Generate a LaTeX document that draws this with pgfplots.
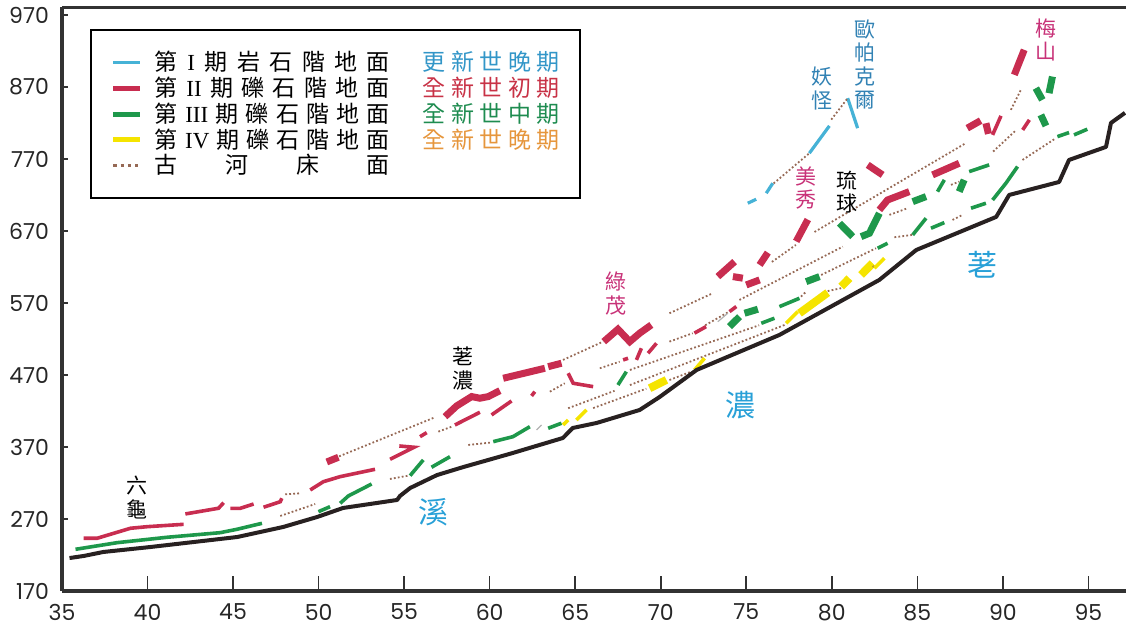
\documentclass[border=0pt]{standalone}
\usepackage{fontspec}
\setmainfont{Noto Sans CJK TC}
\newfontfamily\romfont{Liberation Serif}
\newfontfamily\tickfont{Poppins}
\usepackage{pgfplots}
\pgfplotsset{compat=1.18}

\definecolor{cyanI}{RGB}{70,178,214}
\definecolor{redII}{RGB}{200,45,80}
\definecolor{greenIII}{RGB}{30,152,75}
\definecolor{yellowIV}{RGB}{245,228,0}
\definecolor{dotc}{RGB}{150,105,85}
\definecolor{riverc}{RGB}{40,33,33}
\definecolor{axisc}{RGB}{50,50,50}
\definecolor{eraI}{RGB}{50,150,200}
\definecolor{eraII}{RGB}{200,50,70}
\definecolor{eraIII}{RGB}{30,140,80}
\definecolor{eraIV}{RGB}{230,150,60}
\definecolor{magl}{RGB}{200,50,120}
\definecolor{bluel}{RGB}{50,130,180}
\definecolor{bigblue}{RGB}{40,160,215}

% one legend row: terrace name, epoch colour, epoch name
\newcommand{\lrow}[3]{\makebox[117.5pt][s]{#1}\hspace{16.5pt}\textcolor{#2}{\makebox[68.5pt][s]{#3}}}
\newcommand{\labfont}{\fontsize{10.5}{11.7}\selectfont}
\newcommand{\bigfont}{\fontsize{15}{16}\selectfont}

\pgfplotsset{frame/.style={scale only axis, width=532pt, height=292pt,
  xmin=35, xmax=97.2, ymin=170, ymax=981}}

\begin{document}
\begin{tikzpicture}
\begin{axis}[
  frame,
  axis x line*=bottom, axis y line*=left,
  axis line style={line width=2pt, draw=axisc},
  xtick={35,40,...,95}, ytick={170,270,...,970},
  tick align=inside, major tick length=7.5pt,
  xtick style={line width=0.8pt, draw=axisc},
  ytick style={draw=none},
  /pgf/number format/assume math mode=true,
  tick label style={font=\tickfont\fontsize{11}{13}\selectfont, text=black!85},
  xticklabel style={yshift=-3pt},
  yticklabel style={xshift=-3pt},
  unbounded coords=jump,
  legend style={at={(rel axis cs:0.0263,0.962)}, anchor=north west,
    draw=black, line width=1pt, fill=white,
    inner xsep=10pt, inner ysep=10.5pt, row sep=1.65pt,
    nodes={inner sep=0pt},
    font=\fontsize{11.5}{13}\selectfont,
    /tikz/every odd column/.append style={column sep=6pt}},
  legend cell align=left,
  legend image code/.code={\draw[#1] (0pt,0pt) -- (13.5pt,0pt);},
]
\coordinate (SW) at (rel axis cs:0,0);
\coordinate (NE) at (rel axis cs:1,1);
\draw[line width=2pt, axisc] (rel axis cs:0,1) -- (rel axis cs:1,1);

% Stage I: bedrock terraces
\addplot[cyanI, line width=1.6pt, legend image post style={line width=1.5pt}] coordinates {
 (75.09,708.5) (75.58,714) (nan,nan) (76.17,722.4) (76.55,736.3) (nan,nan)
 (78.69,778) (79.86,815.9) (nan,nan) (80.93,854.4) (81.51,812.7)};
\addlegendentry{\lrow{第\hfil{\romfont I}\hfil 期\hfil 岩\hfil 石\hfil 階\hfil 地\hfil 面}{eraI}{更\hfil 新\hfil 世\hfil 晚\hfil 期}}

% Stage II: gravel terraces (wide pieces)
\addplot[redII, line width=3.5pt, legend image post style={line width=2.5pt}] coordinates {
 (50.48,349.2) (51.16,355.7) (nan,nan)
 (57.39,412.1) (58.07,427) (58.95,440) (59.43,437.7) (59.92,440) (60.6,448.2) (nan,nan)
 (60.79,465.4) (63.23,479.3) (nan,nan)
 (63.42,481.5) (64.2,486.3) (nan,nan)
 (66.67,516.3) (67.5,533.5) (68.19,516.3) (68.77,528) (69.45,539.5) (nan,nan)
 (73.34,606.6) (74.32,627.4) (nan,nan)
 (74.22,606.6) (74.8,604.4) (nan,nan)
 (75.0,595) (75.78,602) (nan,nan)
 (75.78,622.8) (76.26,639.9) (nan,nan)
 (77.92,655.5) (78.6,685.8) (nan,nan)
 (82.1,761.7) (82.97,747.8) (nan,nan)
 (82.78,699.2) (83.26,713) (84.53,724.6) (nan,nan)
 (85.89,747.8) (87.45,764) (nan,nan)
 (87.92,812.7) (88.7,823.2) (nan,nan)
 (89.01,819.6) (89.16,804.8) (nan,nan)
 (90.67,886.8) (91.25,921.5)};
\addlegendentry{\lrow{第\hfil{\romfont II}\hfil 期\hfil 礫\hfil 石\hfil 階\hfil 地\hfil 面}{eraII}{全\hfil 新\hfil 世\hfil 初\hfil 期}}

% Stage III: gravel terraces (wide pieces)
\addplot[greenIII, line width=3.5pt, legend image post style={line width=2.5pt}] coordinates {
 (74.02,537.1) (74.61,551) (nan,nan)
 (74.9,555.7) (75.68,561.3) (nan,nan)
 (78.5,599.6) (79.28,606.6) (nan,nan)
 (80.45,680.7) (81.22,662.1) (nan,nan)
 (81.71,662.1) (82.2,666.8) (82.78,694.6) (nan,nan)
 (84.73,710.7) (85.51,717.7) (nan,nan)
 (87.45,724.6) (87.74,740.9) (nan,nan)
 (91.93,868.3) (92.31,852) (nan,nan)
 (92.7,861.3) (92.9,884.4) (nan,nan)
 (92.22,831.2) (92.52,815.9)};
\addlegendentry{\lrow{第\hfil{\romfont III}\hfil 期\hfil 礫\hfil 石\hfil 階\hfil 地\hfil 面}{eraIII}{全\hfil 新\hfil 世\hfil 中\hfil 期}}

% Stage IV: gravel terraces (wide pieces)
\addplot[yellowIV, line width=4pt, legend image post style={line width=2.5pt}] coordinates {
 (69.35,451.6) (70.33,463.1) (nan,nan)
 (78.11,555.7) (79.76,584.3) (nan,nan)
 (80.55,592.7) (81.03,604.4) (nan,nan)
 (81.71,609) (82.39,625.2)};
\addlegendentry{\lrow{第\hfil{\romfont IV}\hfil 期\hfil 礫\hfil 石\hfil 階\hfil 地\hfil 面}{eraIV}{全\hfil 新\hfil 世\hfil 晚\hfil 期}}

% Former river beds
\addplot[dotc, line width=0.9pt, dash pattern=on 0.9pt off 1.1pt,
  legend image post style={line width=1.6pt, dash pattern=on 1.6pt off 2pt}] coordinates {
 (47.76,274.2) (49.8,290.8) (nan,nan)
 (48.05,304.3) (48.92,305.7) (nan,nan)
 (51.2,357) (56.8,411.2) (nan,nan)
 (54.17,325.6) (55.25,330.2) (nan,nan)
 (57.0,391.3) (57.78,398.2) (nan,nan)
 (58.75,372.8) (60.01,376) (nan,nan)
 (64.29,490.9) (66.63,516.3) (nan,nan)
 (63.52,446.8) (64.39,458.5) (nan,nan)
 (66.44,479.3) (67.6,488.5) (nan,nan)
 (64.59,423.8) (67.3,448) (nan,nan)
 (68.2,456) (77.3,540) (nan,nan)
 (68.2,477) (75.75,539) (nan,nan)
 (78.2,578.8) (78.5,585.7) (nan,nan)
 (79.38,608.9) (82.59,646) (nan,nan)
 (66.05,424) (69.16,451) (nan,nan)
 (70.51,463) (71.78,474.6) (nan,nan)
 (70.51,555.7) (73.04,583.5) (nan,nan)
 (70.51,516.3) (71.87,528) (nan,nan)
 (72.6,539) (74.0,558) (nan,nan)
 (74.6,574.2) (80.64,648.2) (nan,nan)
 (76.5,627) (77.9,650.6) (nan,nan)
 (76.6,736) (78.69,778) (nan,nan)
 (79.97,824.6) (80.93,854.4) (nan,nan)
 (78.99,668.6) (87.86,792.3) (nan,nan)
 (90.47,838.2) (91.05,865.9) (nan,nan)
 (89.43,780.2) (90.79,810.3) (nan,nan)
 (91.15,768.6) (93.1,798.8) (nan,nan)
 (83.66,661.3) (84.73,664.5) (nan,nan)
 (87.06,685.3) (87.65,692.3) (nan,nan)
 (86.97,734) (87.45,738.5) (nan,nan)
 (83.37,692.3) (84.44,701.6) (nan,nan)
 (79.76,586.5) (80.55,590.5) (nan,nan)
 (82.39,620) (82.49,621)};
\addlegendentry{\makebox[117.5pt][s]{古\hfil 河\hfil 床\hfil 面}}

% narrow pieces of each stage
\addplot[redII, line width=1.8pt, forget plot] coordinates {
 (36.27,243.2) (37.05,243.2) (39.0,257.1) (39.97,259.3) (42.11,262.6) (nan,nan)
 (42.21,277) (44.15,284.9) (44.45,292.6) (nan,nan)
 (44.84,284.8) (45.42,284.8) (46.2,290.8) (nan,nan)
 (46.78,286.3) (47.76,294) (47.85,298.8) (nan,nan)
 (49.51,310.3) (50.28,321.8) (51.26,328.8) (53.3,339) (nan,nan)
 (54.18,352.9) (55.58,369.6) (54.72,371.4) (nan,nan)
 (55.93,384.3) (56.32,389.9) (nan,nan)
 (57.97,400.6) (59.43,418.2) (nan,nan)
 (60.11,414.5) (61.28,433.9) (nan,nan)
 (62.45,440.9) (62.64,446.8) (nan,nan)
 (64.59,472.4) (64.88,458.5) (66.05,453.8) (nan,nan)
 (67.8,490.9) (68.09,493.2) (nan,nan)
 (68.58,490.9) (68.87,507.1) (nan,nan)
 (69.26,500.2) (69.75,514) (nan,nan)
 (71.97,528.1) (72.65,537.1) (nan,nan)
 (74.02,558) (74.42,565) (nan,nan)
 (89.4,803.4) (89.89,829.8) (nan,nan)
 (91.16,810.3) (91.55,824.2)};
\addplot[greenIII, line width=1.8pt, forget plot] coordinates {
 (35.79,227.9) (38.22,237.1) (41.14,244.6) (44.25,251) (45.23,255.7) (46.69,264) (nan,nan)
 (49.99,280.1) (50.67,287.1) (nan,nan)
 (51.26,291.8) (51.74,302) (53.1,318.6) (nan,nan)
 (55.35,330.2) (56.12,352) (nan,nan)
 (56.6,341.8) (57.68,356.5) (nan,nan)
 (60.21,377.4) (61.36,384.3) (62.35,398.2) (nan,nan)
 (63.42,396) (64.2,403) (nan,nan)
 (67.5,456.1) (67.99,474.6) (nan,nan)
 (75.88,541.8) (76.65,548.8) (nan,nan)
 (76.94,564.9) (78.11,576.5) (nan,nan)
 (82.68,646) (83.26,652.9) (nan,nan)
 (86.18,724.6) (86.58,740.9) (nan,nan)
 (88.03,752.4) (89.2,761.7) (nan,nan)
 (89.4,713) (90.18,736.3) (90.86,759.4) (nan,nan)
 (84.73,664.5) (85.51,687.7) (nan,nan)
 (85.8,673.8) (86.58,681.6) (nan,nan)
 (88.14,701.6) (89.01,708.5) (nan,nan)
 (93.19,801) (93.87,806.6) (nan,nan)
 (94.16,803.4) (94.94,811.3)};
\addplot[yellowIV, line width=1.8pt, forget plot] coordinates {
 (64.29,400.6) (64.59,407.5) (nan,nan)
 (65.07,407.5) (65.66,421.4) (nan,nan)
 (71.98,477) (72.56,493.2) (nan,nan)
 (77.33,541.8) (78.01,558) (nan,nan)
 (82.49,618.3) (83.07,632.1)};
\addplot[black!30, line width=0.6pt, forget plot] coordinates {
 (62.74,393.6) (63.03,400.6) (nan,nan) (73.34,544) (73.92,555.7)};

% present river bed
\addplot[riverc, line width=2pt, line join=round, forget plot] coordinates {
 (35.44,215.8) (36.26,218.6) (37.42,224.2) (40.17,231.1) (45.25,245) (47.93,258.9)
 (49.92,272.8) (51.43,285.3) (54.59,296.4) (54.76,302) (55.35,313) (56.92,331)
 (58.44,342) (61.36,361.7) (64.28,382.5) (64.86,396.4) (66.26,403.4) (68.77,421.4)
 (69.94,439.5) (71.86,472.8) (72.1,477) (76.94,525.6) (82.78,602) (84.94,643.6)
 (89.61,689.5) (90.37,720) (93.29,738) (93.87,768.6) (96.03,786.7) (96.32,820)
 (97.14,834)};

% place names
\node[font=\labfont, align=center, inner sep=0pt] at (axis cs:39.4,300) {六\\龜};
\node[font=\labfont, align=center, inner sep=0pt] at (axis cs:58.43,479) {荖\\濃};
\node[font=\labfont, align=center, inner sep=0pt, text=magl] at (axis cs:67.4,583) {綠\\茂};
\node[font=\labfont, align=center, inner sep=0pt, text=bluel] at (axis cs:79.4,868) {妖\\怪};
\node[font=\labfont, align=center, inner sep=0pt, text=bluel] at (axis cs:81.96,901) {歐\\帕\\克\\爾};
\node[font=\labfont, align=center, inner sep=0pt, text=magl] at (axis cs:78.5,729.8) {美\\秀};
\node[font=\labfont, align=center, inner sep=0pt] at (axis cs:80.9,723.5) {琉\\球};
\node[font=\labfont, align=center, inner sep=0pt, text=magl] at (axis cs:92.5,935) {梅\\山};
\node[font=\bigfont, inner sep=0pt, text=bigblue] at (axis cs:56.7,279.7) {溪};
\node[font=\bigfont, inner sep=0pt, text=bigblue] at (axis cs:74.67,428.4) {濃};
\node[font=\bigfont, inner sep=0pt, text=bigblue] at (axis cs:88.8,622.8) {荖};
\end{axis}
% short inner ticks of the height axis
\begin{axis}[
  frame,
  axis x line=none, axis y line*=left,
  axis line style={draw=none},
  ytick={170,270,...,970}, yticklabels={},
  tick align=inside, major tick length=3pt,
  ytick style={line width=0.8pt, draw=axisc},
]
\end{axis}
\pgfresetboundingbox
\path[use as bounding box] ([xshift=-31pt,yshift=-19.5pt]SW) rectangle ([yshift=3.5pt]NE);
\end{tikzpicture}
\end{document}
